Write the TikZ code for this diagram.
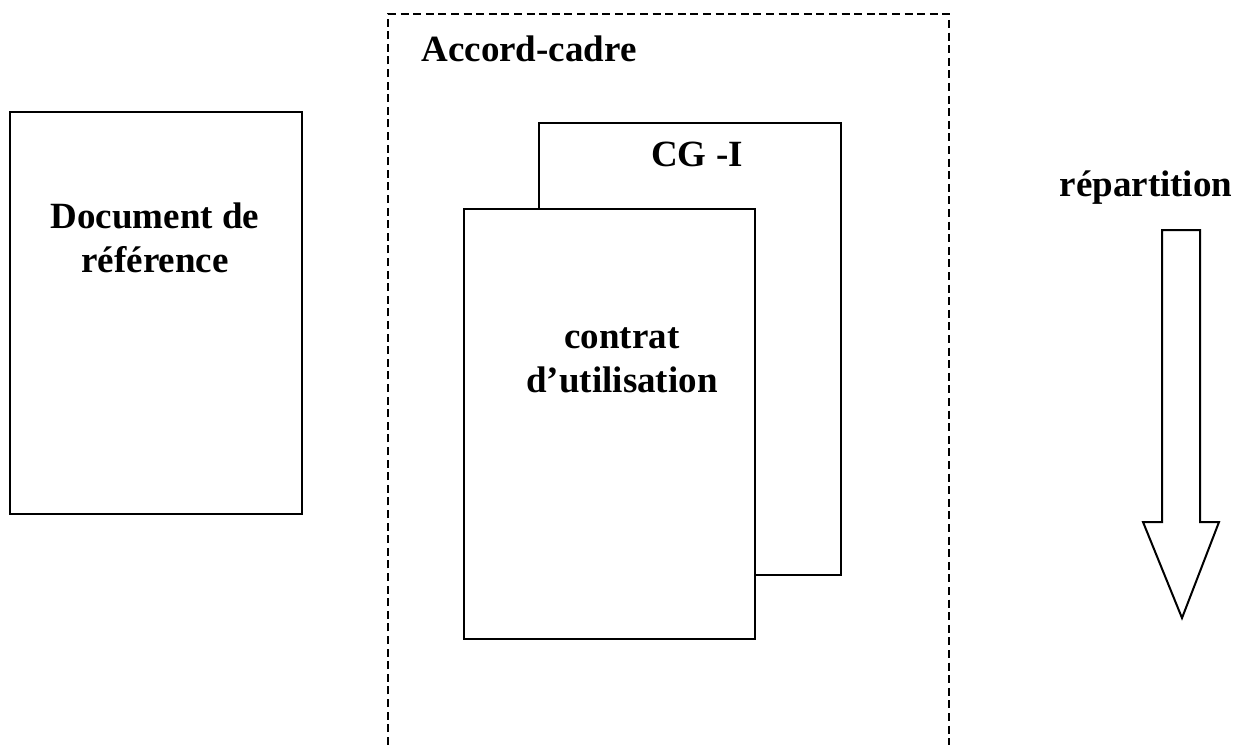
\documentclass[tikz,border=0pt]{standalone}
\usepackage{fontspec}
\setmainfont{Liberation Serif}
\tikzset{
  docbox/.style={draw, line width=1pt, fill=white},
  doctext/.style={font=\bfseries\fontsize{18.5}{22}\selectfont, align=center, inner sep=0pt},
  framebox/.style={draw, line width=1pt, dash pattern=on 4pt off 2.3pt},
}
\begin{document}
\begin{tikzpicture}[x=0.5pt, y=-0.5pt]
  \useasboundingbox (0,0) rectangle (1235,744);
  \clip (0,0) rectangle (1235,744);
  % accord-cadre
  \draw[framebox] (388,770) -- (388,14) -- (949,14) -- (949,770);
  \node[doctext, anchor=base] (accord) at (529,61) {Accord-cadre};
  % document de reference
  \draw[docbox] (10,112) rectangle (302,514);
  \node[doctext, anchor=base] (docref) at (155,272) {Document de\\référence};
  % CG-I et contrat
  \draw[docbox] (539,123) rectangle (841,575);
  \node[doctext, anchor=base] (cgi) at (697,166) {CG -I};
  \draw[docbox] (464,209) rectangle (755,639);
  \node[doctext, anchor=base] (contrat) at (622,392) {contrat\\d’utilisation};
  % repartition
  \node[doctext, anchor=base] (repart) at (1146,196) {répartition};
  \draw[docbox] (1162,230) -- (1200,230) -- (1200,522) -- (1219,522)
    -- (1182,618) -- (1143,522) -- (1162,522) -- cycle;
\end{tikzpicture}
\end{document}
